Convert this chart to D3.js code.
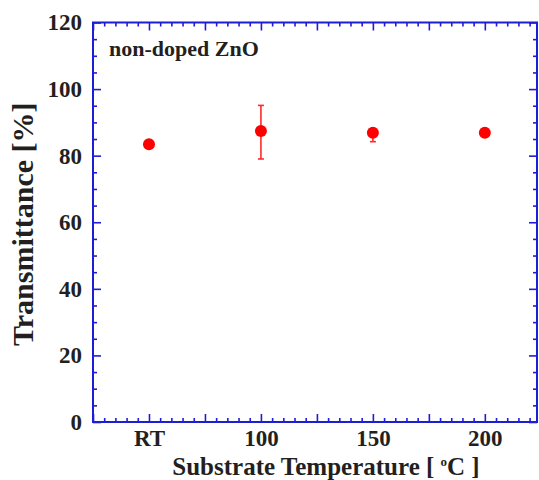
<!DOCTYPE html>
<html>
<head>
<meta charset="utf-8">
<script src="https://cdn.jsdelivr.net/npm/d3@7"></script>
<style>
  body { margin: 0; background: #fff; }
  text { font-family: "Liberation Serif", "Times New Roman", serif; font-weight: bold; fill: #231f20; }
</style>
</head>
<body>
<div id="chart"></div>
<script>
// Data
const categories = ["RT", "100", "150", "200"];
const xPositions = [50, 100, 150, 200];       // numeric x used for the temperature axis
const transmittance = [83.4, 87.4, 86.9, 86.9];
const errLow = [83.4, 79.0, 84.2, 86.9];
const errHigh = [83.4, 95.1, 87.6, 86.9];
const yTicks = [0, 20, 40, 60, 80, 100, 120];
const legendText = "non-doped ZnO";

const data = categories.map((c, i) => ({
  cat: c, x: xPositions[i], y: transmittance[i], lo: errLow[i], hi: errHigh[i]
}));

const W = 539, H = 480;
const margin = {top: 22.5, right: 2, bottom: 58, left: 93},
      width = W - margin.left - margin.right,
      height = H - margin.top - margin.bottom;

const svg = d3.select("#chart")
  .append("svg")
  .attr("width", W)
  .attr("height", H);

const g = svg.append("g")
  .attr("transform", `translate(${margin.left}, ${margin.top})`);

const x = d3.scaleLinear().domain([25, 223.3]).range([0, width]);
const y = d3.scaleLinear().domain([0, 120]).range([height, 0]);

const axisColor = "#1d1dd6";
const majorX = d3.range(25, 224, 25);
const minorX = d3.range(25, 224, 5).filter(v => v % 25 !== 0);
const minorY = d3.range(0, 121, 5).filter(v => v % 20 !== 0);

// ticks pointing inward on all four sides
function styleAxis(sel) {
  sel.select(".domain").remove();
  sel.selectAll(".tick line").attr("stroke", axisColor).attr("stroke-width", 1.6);
}

// bottom: labelled major ticks
g.append("g")
  .attr("transform", `translate(0, ${height})`)
  .call(d3.axisBottom(x).tickValues(majorX).tickSizeInner(-8).tickSizeOuter(0).tickPadding(8)
    .tickFormat(v => { const i = xPositions.indexOf(v); return i >= 0 ? categories[i] : ""; }))
  .call(styleAxis)
  .selectAll("text").style("font-size", "23px").attr("fill", "#231f20");

g.append("g")
  .attr("transform", `translate(0, ${height})`)
  .call(d3.axisBottom(x).tickValues(minorX).tickSizeInner(-4).tickSizeOuter(0).tickFormat(""))
  .call(styleAxis);

// top
g.append("g")
  .call(d3.axisTop(x).tickValues(majorX).tickSizeInner(-8).tickSizeOuter(0).tickFormat(""))
  .call(styleAxis);
g.append("g")
  .call(d3.axisTop(x).tickValues(minorX).tickSizeInner(-4).tickSizeOuter(0).tickFormat(""))
  .call(styleAxis);

// left
g.append("g")
  .call(d3.axisLeft(y).tickValues(yTicks).tickSizeInner(-8).tickSizeOuter(0).tickPadding(11))
  .call(styleAxis)
  .selectAll("text").style("font-size", "23px").attr("fill", "#231f20");
g.append("g")
  .call(d3.axisLeft(y).tickValues(minorY).tickSizeInner(-4).tickSizeOuter(0).tickFormat(""))
  .call(styleAxis);

// right
g.append("g")
  .attr("transform", `translate(${width}, 0)`)
  .call(d3.axisRight(y).tickValues(yTicks).tickSizeInner(-8).tickSizeOuter(0).tickFormat(""))
  .call(styleAxis);
g.append("g")
  .attr("transform", `translate(${width}, 0)`)
  .call(d3.axisRight(y).tickValues(minorY).tickSizeInner(-4).tickSizeOuter(0).tickFormat(""))
  .call(styleAxis);

// frame
g.append("rect")
  .attr("x", 0).attr("y", 0)
  .attr("width", width).attr("height", height)
  .attr("fill", "none")
  .attr("stroke", axisColor)
  .attr("stroke-width", 2);

// error bars
const eb = g.selectAll(".err")
  .data(data.filter(d => d.hi - d.lo > 0.5))
  .enter().append("g").attr("class", "err")
  .attr("stroke", "#ff2a2a").attr("stroke-width", 1.6);
eb.append("line")
  .attr("x1", d => x(d.x)).attr("x2", d => x(d.x))
  .attr("y1", d => y(d.lo)).attr("y2", d => y(d.hi));
eb.append("line")
  .attr("x1", d => x(d.x) - 3).attr("x2", d => x(d.x) + 3)
  .attr("y1", d => y(d.lo)).attr("y2", d => y(d.lo));
eb.append("line")
  .attr("x1", d => x(d.x) - 3).attr("x2", d => x(d.x) + 3)
  .attr("y1", d => y(d.hi)).attr("y2", d => y(d.hi));

// points
g.selectAll(".pt")
  .data(data)
  .enter().append("circle")
  .attr("class", "pt")
  .attr("cx", d => x(d.x))
  .attr("cy", d => y(d.y))
  .attr("r", 6)
  .attr("fill", "#ff0000");

// legend label
g.append("text")
  .attr("x", 16)
  .attr("y", 33)
  .style("font-size", "22px")
  .text(legendText);

// axis titles
const xt = svg.append("text")
  .attr("x", margin.left + width / 2 + 11)
  .attr("y", 475)
  .attr("text-anchor", "middle")
  .style("font-size", "25px");
xt.append("tspan").text("Substrate Temperature [ ");
xt.append("tspan").text("o").style("font-size", "13px").attr("dy", -9);
xt.append("tspan").text("C ]").attr("dy", 9);

svg.append("text")
  .attr("transform", `translate(33, ${margin.top + height / 2 + 2}) rotate(-90)`)
  .attr("text-anchor", "middle")
  .style("font-size", "30px")
  .text("Transmittance [%]");
</script>
</body>
</html>
